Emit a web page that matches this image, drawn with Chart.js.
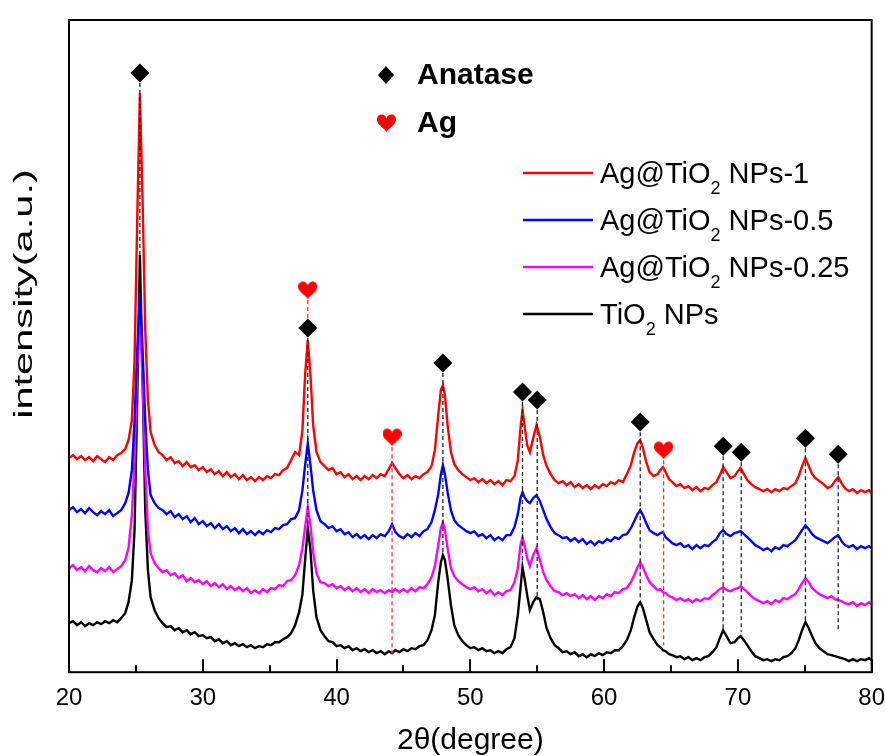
<!DOCTYPE html>
<html>
<head>
<meta charset="utf-8">
<script src="https://cdn.jsdelivr.net/npm/chart.js@4.4.1/dist/chart.umd.min.js"></script>
<style>
  html, body { margin: 0; padding: 0; background: #fff; }
</style>
</head>
<body>
<canvas id="xrdChart" width="885" height="756"></canvas>
<script>
// 2theta grid (degree), shared by all four patterns
const twoTheta = [
  20.0, 20.3, 20.6, 20.9, 21.2, 21.5, 21.8, 22.1, 22.4, 22.7, 23.0, 23.3, 23.6, 23.9,
  24.2, 24.45, 24.7, 24.9, 25.1, 25.3, 25.5, 25.7, 25.9, 26.1,
  26.4, 26.7, 27.0,
  27.3, 27.6, 27.9, 28.2, 28.5, 28.8, 29.1, 29.4, 29.7, 30.0, 30.3, 30.6, 30.9, 31.2, 31.5, 31.8, 32.1, 32.4, 32.7, 33.0, 33.3, 33.6, 33.9, 34.2, 34.5, 34.8, 35.1, 35.4, 35.7, 36.0, 36.3, 36.6, 36.9,
  37.2, 37.45, 37.65, 37.85, 38.05, 38.25, 38.5,
  38.8, 39.1, 39.4, 39.7, 40.0, 40.3, 40.6, 40.9, 41.2, 41.5, 41.8, 42.1, 42.4, 42.7, 43.0, 43.3, 43.6, 43.9, 44.15, 44.4, 44.7, 45.0, 45.3, 45.6, 45.9, 46.2, 46.5, 46.8,
  47.1, 47.35, 47.6, 47.8, 47.95, 48.1, 48.3, 48.55,
  48.8, 49.1, 49.4, 49.7, 50.0, 50.3, 50.6, 50.9, 51.2, 51.5, 51.8, 52.1, 52.4, 52.7, 53.0, 53.3,
  53.55, 53.75, 53.9, 54.05, 54.25, 54.45, 54.7, 54.95, 55.2, 55.45, 55.7,
  56.0, 56.3, 56.6, 56.9, 57.2, 57.5, 57.8, 58.1, 58.4, 58.7, 59.0, 59.3, 59.6, 59.9, 60.2, 60.5, 60.8, 61.1, 61.4, 61.7,
  62.0, 62.25, 62.5, 62.7, 62.9, 63.15, 63.4, 63.7, 64.0, 64.2, 64.4, 64.6, 64.85,
  65.1, 65.4, 65.7, 66.0, 66.3, 66.6, 66.9, 67.2, 67.5, 67.8, 68.1, 68.4,
  68.65, 68.9, 69.15, 69.45, 69.75, 70.0, 70.2, 70.45, 70.7,
  71.0, 71.3, 71.6, 71.9, 72.2, 72.5, 72.8, 73.1, 73.4, 73.7, 74.0, 74.3,
  74.55, 74.8, 75.05, 75.3, 75.55, 75.8,
  76.1, 76.4, 76.7, 77.0, 77.25, 77.5, 77.75, 78.0,
  78.3, 78.6, 78.9, 79.2, 79.5, 79.8, 80.0
];

// intensities (a.u., already stacked with offsets as in the figure)
const ag1 = [
  214, 217, 213, 216, 212, 215, 211, 216, 213, 210, 215, 212, 217, 219,
  223, 232, 252, 312, 452, 579, 472, 342, 272, 240,
  227, 220, 217,
  212, 215, 209, 211, 206, 210, 205, 207, 202, 205, 200, 203, 198, 201, 196, 200, 195, 198, 193, 197, 192, 195, 191, 195, 192, 196, 194, 198, 197, 202, 204, 212, 220,
  217, 242, 297, 332, 297, 247, 220,
  210, 206, 202, 204, 198, 200, 195, 198, 193, 196, 192, 196, 193, 197, 194, 198, 196, 203, 209, 204, 198, 194, 197, 193, 196, 194, 198, 200,
  206, 222, 257, 282, 287, 277, 247, 220,
  208, 202, 198, 195, 192, 194, 190, 193, 189, 192, 188, 191, 187, 192, 191, 196,
  212, 244, 262, 247, 227, 220, 234, 247, 235, 217, 206,
  198, 192, 189, 191, 187, 190, 185, 188, 184, 187, 183, 187, 184, 188, 186, 190, 188, 192, 190, 198,
  207, 220, 229, 232, 224, 210, 200, 196, 198, 202, 205, 200, 193,
  190, 186, 188, 184, 186, 182, 185, 181, 184, 183, 187, 190,
  197, 205, 200, 194, 196, 201, 204, 198, 192,
  188, 185, 183, 181, 183, 180, 183, 181, 184, 183, 186, 189,
  196, 206, 214, 206, 198, 194,
  191, 188, 184, 186, 191, 195, 189, 184,
  181, 183, 179, 182, 180, 182, 179
];

const ag05 = [
  162, 165, 160, 163, 159, 164, 160, 157, 161, 158, 162, 156, 159, 162,
  169, 179, 202, 252, 322, 379, 322, 252, 202, 177,
  169, 164, 162,
  158, 161, 155, 158, 153, 156, 150, 154, 148, 151, 146, 149, 144, 148, 143, 146, 141, 144, 139, 143, 138, 141, 137, 141, 138, 142, 140, 144, 143, 147, 148, 153, 154,
  162, 182, 207, 229, 207, 182, 162,
  151, 148, 144, 146, 141, 143, 138, 140, 135, 138, 134, 137, 133, 137, 134, 138, 136, 141, 148, 140, 136, 134, 138, 135, 139, 136, 141, 143,
  150, 162, 178, 198, 207, 198, 180, 162,
  152, 147, 144, 141, 139, 141, 136, 138, 134, 137, 132, 135, 132, 137, 137, 145,
  158, 174, 180, 175, 171, 169, 174, 177, 171, 162, 153,
  145, 139, 137, 134, 135, 131, 134, 130, 133, 128, 131, 127, 131, 129, 133, 131, 135, 133, 137, 138,
  144, 151, 158, 162, 157, 149, 142, 139, 137, 139, 140, 135, 132,
  129, 127, 129, 125, 127, 123, 127, 124, 127, 126, 130, 133,
  139, 142, 138, 136, 139, 140, 141, 138, 135,
  131, 127, 125, 122, 124, 121, 125, 123, 127, 126, 129, 132,
  137, 142, 147, 143, 138, 135,
  133, 131, 129, 132, 135, 137, 131, 127,
  125, 127, 123, 126, 124, 126, 124
];

const ag025 = [
  104, 107, 102, 105, 101, 106, 102, 100, 104, 101, 105, 100, 103, 106,
  112, 124, 157, 212, 302, 367, 292, 202, 142, 119,
  109, 104, 100,
  102, 97, 99, 94, 97, 91, 94, 90, 92, 88, 91, 86, 89, 85, 88, 83, 86, 82, 85, 81, 84, 79, 82, 79, 83, 80, 84, 83, 87, 86, 91, 92, 97,
  107, 124, 145, 165, 147, 120, 99,
  90, 89, 86, 88, 84, 86, 82, 85, 81, 84, 80, 83, 79, 83, 80, 82, 79, 82, 80, 83, 80, 83, 80, 84, 81, 85, 84, 88,
  95, 106, 127, 144, 150, 142, 124, 104,
  96, 91, 88, 85, 83, 85, 81, 83, 79, 82, 77, 80, 77, 81, 82, 90,
  104, 127, 135, 127, 114, 106, 117, 124, 112, 100, 92,
  86, 81, 80, 77, 79, 76, 78, 74, 77, 73, 76, 72, 76, 74, 78, 76, 80, 79, 83, 84,
  90, 97, 105, 110, 105, 97, 90, 86, 82, 83, 80, 79, 76,
  75, 72, 74, 71, 73, 70, 73, 71, 74, 73, 77, 80,
  83, 85, 82, 81, 83, 84, 86, 83, 80,
  76, 73, 71, 69, 71, 68, 72, 70, 74, 73, 76, 78,
  83, 89, 94, 90, 84, 81,
  78, 76, 74, 76, 73, 72, 71, 69,
  68, 70, 66, 69, 67, 70, 68
];

const tio2 = [
  49, 51, 47, 50, 46, 49, 47, 50, 48, 51, 49, 52, 50, 54,
  59, 70, 92, 142, 272, 417, 292, 162, 102, 75,
  62, 54, 49,
  45, 46, 42, 44, 40, 42, 38, 40, 36, 37, 34, 35, 31, 33, 29, 31, 27, 29, 26, 28, 25, 27, 24, 26, 25, 28, 27, 30, 30, 33, 35, 39, 47,
  60, 78, 112, 144, 122, 82, 55,
  42, 36, 31, 30, 26, 27, 24, 26, 22, 24, 21, 23, 20, 22, 19, 21, 18, 21, 19, 22, 20, 23, 21, 24, 23, 26, 27, 32,
  42, 57, 90, 110, 117, 112, 94, 67,
  47, 37, 31, 27, 24, 25, 22, 24, 21, 22, 19, 21, 19, 23, 25, 34,
  57, 84, 105, 94, 77, 62, 70, 75, 73, 60, 44,
  34, 27, 24, 20, 21, 18, 20, 16, 18, 15, 18, 16, 19, 17, 20, 19, 22, 22, 26, 32,
  42, 55, 66, 70, 64, 52, 40, 33, 27, 25, 22, 21, 18,
  17, 15, 16, 13, 15, 12, 14, 12, 15, 16, 20, 25,
  34, 42, 36, 29, 30, 34, 36, 32, 27,
  21, 16, 14, 12, 13, 11, 13, 12, 15, 16, 19, 24,
  32, 42, 50, 44, 36, 29,
  24, 21, 18, 17, 16, 15, 14, 13,
  11, 13, 11, 13, 12, 14, 12
];

const seriesLabels = ["Ag@TiO2 NPs-1", "Ag@TiO2 NPs-0.5", "Ag@TiO2 NPs-0.25", "TiO2 NPs"];
const seriesColors = ["#ff0000", "#0000ff", "#ff00ff", "#000000"];
const seriesValues = [ag1, ag05, ag025, tio2];

// peak markers: position, marker height, where the dashed guide ends
const anataseTheta = [25.3, 37.85, 47.95, 53.9, 55.0, 62.7, 68.9, 70.25, 75.05, 77.5];
const anataseMark = [599, 344, 309, 280, 272, 250, 226, 220, 234, 218];
const anataseDropTo = [417, 142, 117, 102, 72, 72, 40, 40, 52, 40];
const agTheta = [37.85, 44.15, 64.45];
const agMark = [382, 235, 222];
const agDropTo = [354, 17, 27];

const FONT = "'Liberation Sans', Arial, sans-serif";

function makeHeart(w, h, color) {
  const c = document.createElement("canvas");
  c.width = w;
  c.height = h;
  const g = c.getContext("2d");
  g.fillStyle = color;
  g.beginPath();
  g.moveTo(w / 2, h * 0.24);
  g.bezierCurveTo(w * 0.44, h * -0.04, 0, h * -0.06, 0, h * 0.32);
  g.bezierCurveTo(0, h * 0.6, w * 0.34, h * 0.74, w / 2, h);
  g.bezierCurveTo(w * 0.66, h * 0.74, w, h * 0.6, w, h * 0.32);
  g.bezierCurveTo(w, h * -0.06, w * 0.56, h * -0.04, w / 2, h * 0.24);
  g.closePath();
  g.fill();
  return c;
}
const heart = makeHeart(19, 18, "#ff0000");

function dropLines(pos, top, bottom) {
  const pts = [];
  pos.forEach((p, i) => {
    pts.push({ x: p, y: top[i] - 10 }, { x: p, y: bottom[i] }, { x: p, y: null });
  });
  return pts;
}

const traceSets = seriesValues.map((vals, k) => ({
  type: "line",
  label: seriesLabels[k],
  data: twoTheta.map((t, i) => ({ x: t, y: vals[i] })),
  borderColor: seriesColors[k],
  borderWidth: 2.4,
  pointRadius: 0,
  tension: 0,
  order: 2 + k,
}));

const framePlugin = {
  id: "frame",
  afterDraw(chart) {
    const { ctx, chartArea: a, scales } = chart;
    ctx.save();
    ctx.strokeStyle = "#000";
    ctx.lineWidth = 2;
    ctx.strokeRect(a.left, a.top, a.right - a.left, a.bottom - a.top);
    // inward ticks on the bottom axis
    for (let v = 20; v <= 80; v += 5) {
      const px = Math.round(scales.x.getPixelForValue(v));
      const len = v % 10 === 0 ? 13 : 7;
      ctx.beginPath();
      ctx.moveTo(px, a.bottom);
      ctx.lineTo(px, a.bottom - len);
      ctx.stroke();
    }

    // y title
    ctx.save();
    ctx.translate(25, 294);
    ctx.rotate(-Math.PI / 2);
    ctx.scale(1.6, 1);
    ctx.fillStyle = "#000";
    ctx.font = "26px " + FONT;
    ctx.textAlign = "center";
    ctx.textBaseline = "middle";
    ctx.fillText("intensity(a.u.)", 0, 0);
    ctx.restore();

    // phase key
    ctx.fillStyle = "#000";
    ctx.beginPath();
    ctx.moveTo(386, 66);
    ctx.lineTo(394, 75);
    ctx.lineTo(386, 84);
    ctx.lineTo(378, 75);
    ctx.closePath();
    ctx.fill();
    ctx.drawImage(heart, 377, 114);
    ctx.font = "bold 30px " + FONT;
    ctx.textAlign = "left";
    ctx.textBaseline = "alphabetic";
    ctx.fillText("Anatase", 417, 84);
    ctx.fillText("Ag", 417, 132);

    // series legend
    seriesLabels.forEach((lab, k) => {
      const cy = 173 + k * 47;
      ctx.strokeStyle = seriesColors[k];
      ctx.lineWidth = 2.5;
      ctx.beginPath();
      ctx.moveTo(523, cy);
      ctx.lineTo(593, cy);
      ctx.stroke();
      const m = lab.match(/^(.*TiO)2(.*)$/);
      let x = 600;
      const base = cy + 10;
      ctx.fillStyle = "#000";
      ctx.font = "29px " + FONT;
      ctx.fillText(m[1], x, base);
      x += ctx.measureText(m[1]).width;
      ctx.font = "18px " + FONT;
      ctx.fillText("2", x, base + 11);
      x += ctx.measureText("2").width;
      ctx.font = "29px " + FONT;
      ctx.fillText(m[2], x, base);
    });
    ctx.restore();
  },
};

new Chart(document.getElementById("xrdChart").getContext("2d"), {
  data: {
    datasets: [
      {
        type: "scatter",
        label: "Anatase",
        data: anataseTheta.map((t, i) => ({ x: t, y: anataseMark[i] })),
        pointStyle: "rectRot",
        pointRadius: 9.5,
        backgroundColor: "#000",
        borderColor: "#000",
        borderWidth: 0,
        order: 0,
      },
      {
        type: "scatter",
        label: "Ag",
        data: agTheta.map((t, i) => ({ x: t, y: agMark[i] })),
        pointStyle: heart,
        order: 0,
      },
      {
        type: "line",
        label: "anatase guides",
        data: dropLines(anataseTheta, anataseMark, anataseDropTo),
        borderColor: "#222",
        borderWidth: 1.3,
        borderDash: [4, 3],
        pointRadius: 0,
        spanGaps: false,
        order: 1,
      },
      {
        type: "line",
        label: "Ag guides",
        data: dropLines(agTheta, agMark, agDropTo),
        borderColor: "#ff3030",
        borderWidth: 1.3,
        borderDash: [4, 3],
        pointRadius: 0,
        spanGaps: false,
        order: 1,
      },
      ...traceSets,
    ],
  },
  options: {
    responsive: false,
    animation: false,
    devicePixelRatio: 1,
    layout: { padding: { left: 69, right: 0, top: 20, bottom: 0 } },
    plugins: { legend: { display: false }, tooltip: { enabled: false } },
    scales: {
      x: {
        type: "linear",
        min: 20,
        max: 80,
        // tick marks are drawn inward by the frame plugin; tickLength only spaces the labels
        grid: { display: false, drawTicks: true, tickLength: 12 },
        border: { display: false },
        ticks: {
          stepSize: 10,
          padding: 0,
          color: "#000",
          font: { family: FONT, size: 24 },
        },
        title: {
          display: true,
          text: "2θ(degree)",
          color: "#000",
          font: { family: FONT, size: 30, lineHeight: 1 },
          padding: { top: 13, bottom: 0 },
        },
      },
      y: { display: false, min: 0, max: 652 },
    },
  },
  plugins: [framePlugin],
});
</script>
</body>
</html>
